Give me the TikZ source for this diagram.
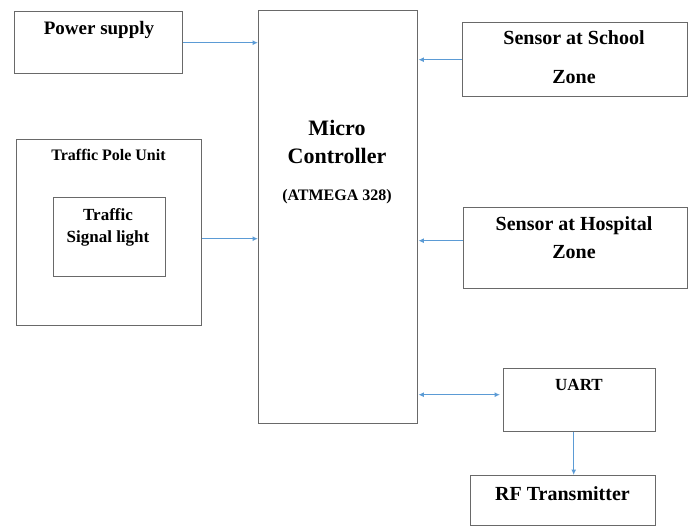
\documentclass[tikz,border=0pt]{standalone}
\usepackage{fontspec}
\setmainfont{Liberation Serif}[BoldFont={Liberation Serif Bold}]
\newfontfamily\tnrb{Liberation Serif Bold}
\usetikzlibrary{arrows.meta}
\definecolor{boxgray}{RGB}{105,105,105}
\definecolor{arrblue}{RGB}{91,155,213}
\tikzset{
  blk/.style={draw=boxgray, line width=1.4pt, rectangle, inner sep=0pt, anchor=north west},
  lbl/.style={anchor=base, inner sep=0pt, font=\tnrb\fontsize{#1}{#1}\selectfont, text=black},
  arr/.style={draw=arrblue, line width=1.1pt, -{Latex[length=5.5pt,width=5pt]}},
  darr/.style={draw=arrblue, line width=1.1pt, {Latex[length=5.5pt,width=5pt]}-{Latex[length=5.5pt,width=5pt]}}
}
\begin{document}
\begin{tikzpicture}[x=1pt,y=-1pt]
\useasboundingbox (0,0) rectangle (693,527);
% boxes
\node[blk, minimum width=168, minimum height=62] (power) at (14,11) {};
\node[blk, minimum width=159, minimum height=413] (mc) at (258,10) {};
\node[blk, minimum width=225, minimum height=74] (school) at (462,22) {};
\node[blk, minimum width=224, minimum height=81] (hosp) at (463,207) {};
\node[blk, minimum width=185, minimum height=186] (tpu) at (16,139) {};
\node[blk, minimum width=112, minimum height=79] (tsl) at (53,197) {};
\node[blk, minimum width=152, minimum height=63] (uart) at (503,368) {};
\node[blk, minimum width=185, minimum height=50] (rf) at (470,475) {};
% labels
\node[lbl=19] (tpower) at (99,35) {Power supply};
\node[lbl=22] (tmicro) at (337,135) {Micro};
\node[lbl=22] (tcontr) at (337,163) {Controller};
\node[lbl=16] (tatm) at (337,200) {(ATMEGA 328)};
\node[lbl=20] (tsch1) at (574,45) {Sensor at School};
\node[lbl=20] (tsch2) at (574,83) {Zone};
\node[lbl=20] (thos1) at (574,230) {Sensor at Hospital};
\node[lbl=20] (thos2) at (574,258) {Zone};
\node[lbl=16] (ttpu) at (108.5,160) {Traffic Pole Unit};
\node[lbl=17] (ttsl1) at (108,220) {Traffic};
\node[lbl=17] (ttsl2) at (108,242) {Signal light};
\node[lbl=17] (tuart) at (579,390) {UART};
\node[lbl=20] (trf) at (562.5,500) {RF Transmitter};
% connectors
\draw[arr] (power.east) -- (power.east -| mc.west);
\draw[arr] ([yshift=-1.5pt]tsl.east -| tpu.east) -- ([yshift=-1.5pt]tsl.east -| mc.west);
\draw[arr] (school.west) -- (school.west -| mc.east);
\draw[arr] ([yshift=7.5pt]hosp.west) -- ([yshift=7.5pt]hosp.west -| mc.east);
\draw[darr] ([yshift=5.5pt]uart.west -| mc.east) -- ([yshift=5.5pt,xshift=-3pt]uart.west);
\draw[arr] ([xshift=-6pt]uart.south) -- ([xshift=-6pt]uart.south |- rf.north);
\end{tikzpicture}
\end{document}
